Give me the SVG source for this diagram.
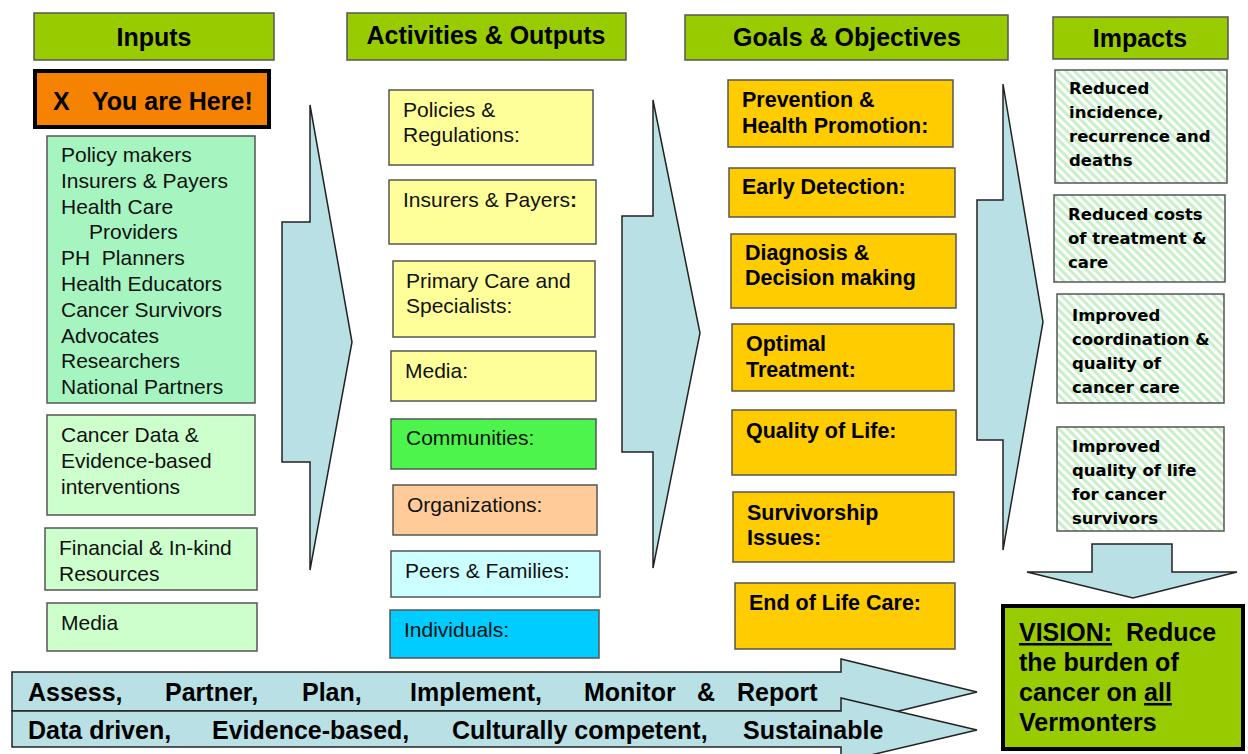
<svg xmlns="http://www.w3.org/2000/svg" width="1248" height="754" viewBox="0 0 1248 754">
<style>
.hdr{fill:#99cc00;stroke:#555;stroke-width:1.5}
.ht{font-family:"Liberation Sans",Arial,sans-serif;font-weight:bold;font-size:25px;fill:#000;text-anchor:middle}
.arr{fill:#b9e0e4;stroke:#222;stroke-width:1.5;stroke-linejoin:miter}
.box{stroke:#555;stroke-width:1.5}
.t{font-family:"Liberation Sans",Arial,sans-serif;font-size:21px;fill:#111}
.tb{font-family:"Liberation Sans",Arial,sans-serif;font-size:21.5px;font-weight:bold;fill:#000}
.ti{font-family:"DejaVu Sans",Verdana,sans-serif;font-size:16.5px;font-weight:bold;fill:#000}
.big{font-family:"Liberation Sans",Arial,sans-serif;font-size:25px;font-weight:bold;fill:#000}
.imp{fill:url(#hatch);stroke:#555;stroke-width:1.5}
</style>
<defs>
<pattern id="hatch" patternUnits="userSpaceOnUse" width="6" height="6" patternTransform="rotate(-45)">
<rect width="6" height="6" fill="#ffffff"/>
<rect width="3" height="6" fill="#c8f0c8"/>
</pattern>
</defs>
<rect width="1248" height="754" fill="#ffffff"/>

<g id="connectors">
<path class="arr" d="M310,105 L352,342 L310,570 L310,462 L282,462 L282,222 L310,222 Z"/>
<path class="arr" d="M653,100 L700,333 L653,568 L653,452 L622,452 L622,216 L653,216 Z"/>
<path class="arr" d="M1003,84 L1043,322 L1003,550 L1003,440 L977,440 L977,200 L1003,200 Z"/>
<path class="arr" d="M1092,544 L1172,544 L1172,572 L1237,572 L1133,598 L1027,572 L1092,572 Z"/>
</g>

<g id="hdr-inputs"><rect class="hdr" x="34" y="13" width="240" height="47"/><text class="ht" x="154" y="46">Inputs</text></g>
<g id="hdr-activities"><rect class="hdr" x="347" y="13" width="279" height="47"/><text class="ht" x="486" y="44">Activities &amp; Outputs</text></g>
<g id="hdr-goals"><rect class="hdr" x="685" y="15" width="323" height="45"/><text class="ht" x="847" y="46">Goals &amp; Objectives</text></g>
<g id="hdr-impacts"><rect class="hdr" x="1053" y="17" width="175" height="42"/><text class="ht" x="1140" y="47">Impacts</text></g>

<g id="you-are-here"><rect x="35" y="71" width="234" height="56" fill="#f58200" stroke="#000" stroke-width="4"/>
<text class="big" x="53" y="110">X</text><text class="big" x="92" y="110">You are Here!</text></g>

<g id="in-stakeholders"><rect class="box" x="47" y="136" width="208" height="267" fill="#a6f5c0"/>
<text class="t" x="61" y="162">Policy makers</text>
<text class="t" x="61" y="188">Insurers &amp; Payers</text>
<text class="t" x="61" y="214">Health Care</text>
<text class="t" x="89" y="239">Providers</text>
<text class="t" x="61" y="265" xml:space="preserve">PH  Planners</text>
<text class="t" x="61" y="291">Health Educators</text>
<text class="t" x="61" y="317">Cancer Survivors</text>
<text class="t" x="61" y="343">Advocates</text>
<text class="t" x="61" y="368">Researchers</text>
<text class="t" x="61" y="394">National Partners</text></g>
<g id="in-data"><rect class="box" x="47" y="415" width="208" height="100" fill="#ccffcc"/>
<text class="t" x="61" y="442">Cancer Data &amp;</text>
<text class="t" x="61" y="468">Evidence-based</text>
<text class="t" x="61" y="494">interventions</text></g>
<g id="in-financial"><rect class="box" x="45" y="528" width="212" height="62" fill="#ccffcc"/>
<text class="t" x="59" y="555">Financial &amp; In-kind</text>
<text class="t" x="59" y="581">Resources</text></g>
<g id="in-media"><rect class="box" x="47" y="603" width="210" height="48" fill="#ccffcc"/>
<text class="t" x="61" y="630">Media</text></g>

<g id="act-policies"><rect class="box" x="389" y="90" width="204" height="75" fill="#ffff99"/>
<text class="t" x="403" y="117">Policies &amp;</text><text class="t" x="403" y="142">Regulations:</text></g>
<g id="act-insurers"><rect class="box" x="389" y="180" width="207" height="64" fill="#ffff99"/>
<text class="t" x="403" y="207">Insurers &amp; Payers<tspan font-weight="bold">:</tspan></text></g>
<g id="act-primary"><rect class="box" x="393" y="261" width="202" height="76" fill="#ffff99"/>
<text class="t" x="406" y="288">Primary Care and</text><text class="t" x="406" y="313">Specialists:</text></g>
<g id="act-media"><rect class="box" x="391" y="351" width="205" height="50" fill="#ffff99"/>
<text class="t" x="405" y="378">Media:</text></g>
<g id="act-communities"><rect class="box" x="391" y="419" width="205" height="50" fill="#4cf44c"/>
<text class="t" x="406" y="445">Communities:</text></g>
<g id="act-organizations"><rect class="box" x="393" y="485" width="204" height="50" fill="#ffcc99"/>
<text class="t" x="407" y="512">Organizations:</text></g>
<g id="act-peers"><rect class="box" x="391" y="551" width="209" height="46" fill="#ccffff"/>
<text class="t" x="405" y="578">Peers &amp; Families:</text></g>
<g id="act-individuals"><rect class="box" x="390" y="610" width="209" height="48" fill="#00ccff"/>
<text class="t" x="404" y="637">Individuals:</text></g>

<g id="goal-prevention"><rect class="box" x="728" y="80" width="225" height="67" fill="#ffcc00"/>
<text class="tb" x="742" y="107">Prevention &amp;</text><text class="tb" x="742" y="133">Health Promotion:</text></g>
<g id="goal-early"><rect class="box" x="729" y="168" width="226" height="49" fill="#ffcc00"/>
<text class="tb" x="742" y="194">Early Detection:</text></g>
<g id="goal-diagnosis"><rect class="box" x="731" y="234" width="225" height="74" fill="#ffcc00"/>
<text class="tb" x="745" y="260">Diagnosis &amp;</text><text class="tb" x="745" y="285">Decision making</text></g>
<g id="goal-treatment"><rect class="box" x="732" y="324" width="222" height="67" fill="#ffcc00"/>
<text class="tb" x="746" y="351">Optimal</text><text class="tb" x="746" y="377">Treatment:</text></g>
<g id="goal-quality"><rect class="box" x="732" y="410" width="224" height="65" fill="#ffcc00"/>
<text class="tb" x="746" y="438">Quality of Life:</text></g>
<g id="goal-survivorship"><rect class="box" x="733" y="492" width="221" height="70" fill="#ffcc00"/>
<text class="tb" x="747" y="520">Survivorship</text><text class="tb" x="747" y="545">Issues:</text></g>
<g id="goal-endoflife"><rect class="box" x="735" y="583" width="220" height="66" fill="#ffcc00"/>
<text class="tb" x="749" y="610">End of Life Care:</text></g>

<g id="imp-incidence"><rect class="imp" x="1055" y="70" width="172" height="113"/>
<text class="ti" x="1069" y="94">Reduced</text>
<text class="ti" x="1069" y="118">incidence,</text>
<text class="ti" x="1069" y="142">recurrence and</text>
<text class="ti" x="1069" y="166">deaths</text></g>
<g id="imp-costs"><rect class="imp" x="1054" y="195" width="171" height="87"/>
<text class="ti" x="1068" y="220">Reduced costs</text>
<text class="ti" x="1068" y="244">of treatment &amp;</text>
<text class="ti" x="1068" y="268">care</text></g>
<g id="imp-coordination"><rect class="imp" x="1057" y="294" width="167" height="109"/>
<text class="ti" x="1072" y="321">Improved</text>
<text class="ti" x="1072" y="345">coordination &amp;</text>
<text class="ti" x="1072" y="369">quality of</text>
<text class="ti" x="1072" y="393">cancer care</text></g>
<g id="imp-qol"><rect class="imp" x="1057" y="427" width="167" height="104"/>
<text class="ti" x="1072" y="452">Improved</text>
<text class="ti" x="1072" y="476">quality of life</text>
<text class="ti" x="1072" y="500">for cancer</text>
<text class="ti" x="1072" y="524">survivors</text></g>

<g id="vision"><rect x="1003" y="606" width="240" height="143" fill="#99cc00" stroke="#000" stroke-width="4"/>
<text class="big" x="1019" y="641" xml:space="preserve"><tspan text-decoration="underline">VISION:</tspan>  Reduce</text>
<text class="big" x="1019" y="671">the burden of</text>
<text class="big" x="1019" y="701">cancer on <tspan text-decoration="underline">all</tspan></text>
<text class="big" x="1019" y="731">Vermonters</text></g>

<g id="process-arrow"><path class="arr" d="M12,672 L841,672 L841,659 L977,692 L841,725 L841,711 L12,711 Z"/>
<text class="big" x="28" y="701">Assess,</text>
<text class="big" x="165" y="701">Partner,</text>
<text class="big" x="302" y="701">Plan,</text>
<text class="big" x="410" y="701">Implement,</text>
<text class="big" x="584" y="701">Monitor</text>
<text class="big" x="697" y="701">&amp;</text>
<text class="big" x="737" y="701">Report</text></g>
<g id="principles-arrow"><path class="arr" d="M12,711 L841,711 L841,698 L977,730 L841,762 L841,747 L12,747 Z"/>
<text class="big" x="28" y="739">Data driven,</text>
<text class="big" x="212" y="739">Evidence-based,</text>
<text class="big" x="452" y="739">Culturally competent,</text>
<text class="big" x="743" y="739">Sustainable</text></g>
</svg>
